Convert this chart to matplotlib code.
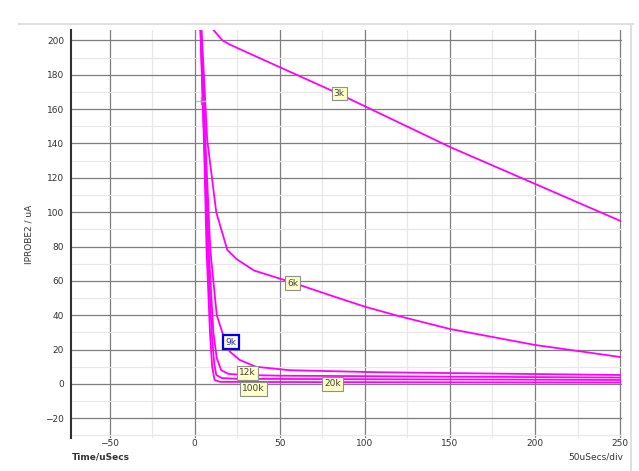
import matplotlib.pyplot as plt
from matplotlib.ticker import MultipleLocator

# probe current traces, time in uSecs, current in uA
t_3k = [11.3, 16.4, 20.5, 26.4, 85, 150, 200, 250]
i_3k = [205.8, 200, 197.7, 195, 168.8, 138, 116.5, 95]

t_6k = [3.6, 7.4, 12.7, 19.2, 24.6, 35, 57.5, 80, 100, 120, 150, 200, 250]
i_6k = [215, 142, 100, 78, 72.7, 66, 59, 51.5, 45, 39.5, 32, 22.7, 15.7]

t_9k = [3.4, 6.4, 9.2, 13, 16.4, 20.5, 26.4, 36, 55.7, 108, 250]
i_9k = [215, 140, 78, 40, 29.6, 19, 14, 10, 8, 6.8, 5.2]

t_12k = [3.3, 5.9, 8.3, 11, 13, 15.6, 20, 30, 50, 250]
i_12k = [215, 140, 78, 30, 15, 8, 5.8, 5.2, 4.8, 3.7]

t_20k = [3.2, 5.7, 7.6, 10, 11.5, 12.7, 16, 25, 50, 250]
i_20k = [215, 140, 78, 30, 12, 5.2, 3.4, 3.0, 2.9, 2.3]

t_100k = [3.1, 5.5, 7, 9, 10.3, 11.7, 15, 50, 250]
i_100k = [215, 140, 78, 30, 10, 2.3, 1.2, 1.1, 0.8]

traces = [(t_3k, i_3k), (t_6k, i_6k), (t_9k, i_9k),
          (t_12k, i_12k), (t_20k, i_20k), (t_100k, i_100k)]

# label text, position (t, uA)
labels = ["3k", "6k", "9k", "12k", "100k", "20k"]
label_t = [85, 57.5, 21.5, 31, 34.6, 81]
label_i = [169, 58.7, 24.4, 6.4, -2.9, 0]

fig = plt.figure(figsize=(6.39, 4.71), dpi=100)
ax = fig.add_axes([0.111, 0.070, 0.862, 0.866])

for t, i in traces:
    ax.plot(t, i, color="#ff00ff", lw=1.3, solid_joinstyle="round")

for lab, x, y in zip(labels, label_t, label_i):
    edge = "#0000ee" if lab == "9k" else "#909090"
    lw = 1.6 if lab == "9k" else 0.8
    ax.text(x, y, lab, ha="center", va="center", fontsize=6.5,
            color="#404040" if lab != "9k" else "#3030cc",
            bbox=dict(boxstyle="square,pad=0.25", fc="#ffffc8", ec=edge, lw=lw))

# cursor marker
ax.plot([1, 6], [165, 165], color="#c0c0c0", lw=1.0)
ax.plot([3.5, 3.5], [163, 167], color="#909090", lw=1.0)

ax.set_xlim(-72.7, 251)
ax.set_ylim(-31.5, 206)
ax.xaxis.set_major_locator(MultipleLocator(50))
ax.xaxis.set_minor_locator(MultipleLocator(25))
ax.yaxis.set_major_locator(MultipleLocator(20))
ax.yaxis.set_minor_locator(MultipleLocator(10))
ax.grid(which="major", color="#7e7e7e", lw=0.9)
ax.grid(which="minor", color="#e8e8e8", lw=0.9)
ax.set_axisbelow(True)

for s in ["top", "right", "bottom"]:
    ax.spines[s].set_visible(False)
ax.spines["left"].set_color("#303030")
ax.spines["left"].set_linewidth(1.5)

ax.tick_params(which="both", length=0, labelsize=6.5, labelcolor="#333333")
ax.tick_params(axis="y", pad=5)
ax.tick_params(axis="x", pad=1)

ax.set_ylabel("IPROBE2 / uA", fontsize=6.5, family="Liberation Sans Narrow",
              color="#333333", labelpad=8)
fig.text(0.113, 0.030, "Time/uSecs", fontsize=6.5, color="#333333",
         weight="bold", va="center")
fig.text(0.975, 0.030, "50uSecs/div", fontsize=6.5, color="#333333",
         ha="right", va="center")

# outer frame lines
fig.add_artist(plt.Line2D([0.03, 0.99], [0.948, 0.948], color="#e0e0e0", lw=1.5))
fig.add_artist(plt.Line2D([0.988, 0.988], [0.0, 0.948], color="#e0e0e0", lw=1.5))

fig.savefig("out.png", dpi=100)
